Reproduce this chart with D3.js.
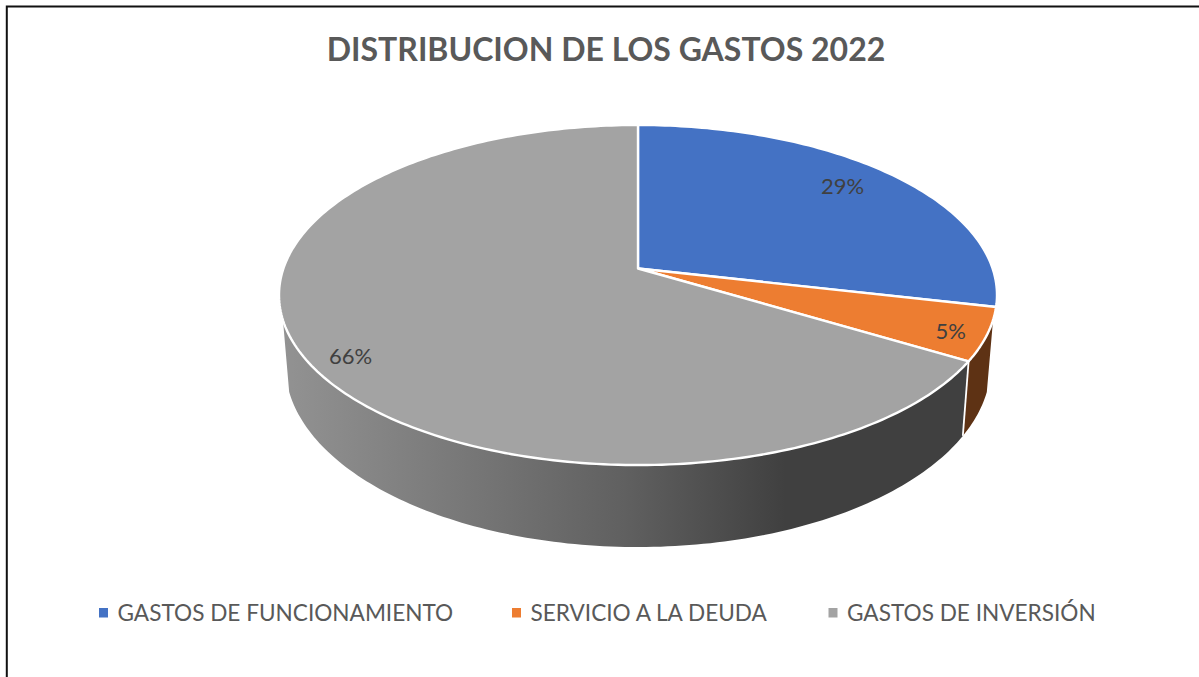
<!DOCTYPE html>
<html><head><meta charset="utf-8">
<script src="https://cdn.jsdelivr.net/npm/d3@7"></script>
<style>html,body{margin:0;padding:0;background:#fff}svg{display:block}text{font-family:Lato,"Open Sans",sans-serif}</style>
</head><body><svg id="c" width="1199" height="677"></svg>
<script>
const titleText = "DISTRIBUCION DE LOS GASTOS 2022";
const categories = ["GASTOS DE FUNCIONAMIENTO", "SERVICIO A LA DEUDA", "GASTOS DE INVERSIÓN"];
const values = [28.6, 5.0, 66.4];
const colors = ["#4472C4", "#ED7D31", "#A3A3A3"];
const wallColors = ["#264478", "#5E3214", "url(#wall)"];

const W = 1199, H = 677;
const svg = d3.select("#c");
const defs = svg.append("defs");
const grad = defs.append("linearGradient").attr("id", "wall")
  .attr("gradientUnits", "userSpaceOnUse").attr("x1", 285).attr("x2", 785).attr("y1", 0).attr("y2", 0);
[[0, "#929292"], [0.68, "#606060"], [1, "#404040"]].forEach(([o, c]) =>
  grad.append("stop").attr("offset", o).attr("stop-color", c));

// Perspective disc: u = sin(a), v = -cos(a), v > 0 toward the viewer
const K = 0.156;
const project = (p, a, r = 1) => {
  const u = r * Math.sin(a), v = -r * Math.cos(a), w = 1 - K * v;
  return [p.x0 + p.a * u / w, p.y0 + p.b * v / w];
};
const topP = { x0: 638, y0: 268.5, a: 354.6, b: 165.9 };
const botP = { x0: 638, y0: 336.6, a: 348.4, b: 177.6 };
const rad = d => d * Math.PI / 180;
const wallFrom = rad(107.3), wallTo = rad(252.7);

const arcs = d3.pie().sort(null).value(d => d)(values);
const sample = (a0, a1) => {
  const n = Math.max(2, Math.ceil((a1 - a0) / rad(1)));
  return d3.range(n + 1).map(i => a0 + (a1 - a0) * i / n);
};
const line = d3.line();

// Side walls
const walls = arcs.map((d, i) => ({ i, a0: Math.max(d.startAngle, wallFrom), a1: Math.min(d.endAngle, wallTo) }))
  .filter(d => d.a1 > d.a0);
svg.append("g").selectAll("path").data(walls).join("path")
  .attr("d", d => {
    const as = sample(d.a0, d.a1);
    return line(as.map(a => project(topP, a)).concat(as.slice().reverse().map(a => project(botP, a)))) + "Z";
  })
  .attr("fill", d => wallColors[d.i]);
// white seam between walls
const seam = arcs[1].endAngle;
svg.append("line")
  .attr("x1", project(topP, seam)[0]).attr("y1", project(topP, seam)[1])
  .attr("x2", project(botP, seam)[0]).attr("y2", project(botP, seam)[1])
  .attr("stroke", "#fff").attr("stroke-width", 1.8);

// Top face
svg.append("g").selectAll("path").data(arcs).join("path")
  .attr("d", d => line([[topP.x0, topP.y0]].concat(sample(d.startAngle, d.endAngle).map(a => project(topP, a)))) + "Z")
  .attr("fill", (d, i) => colors[i])
  .attr("stroke", "#fff").attr("stroke-width", 2.4).attr("stroke-linejoin", "round");

// Data labels
const labelPlace = [[0.822, -2], [0.906, 1.3], [0.893, -3.5]];
svg.append("g").selectAll("text").data(arcs).join("text")
  .each(function (d, i) {
    const mid = (d.startAngle + d.endAngle) / 2 + rad(labelPlace[i][1]);
    const [x, y] = project(topP, mid, labelPlace[i][0]);
    d3.select(this).attr("x", x).attr("y", y).attr("dy", "0.35em");
  })
  .attr("text-anchor", "middle").attr("font-size", 22).attr("fill", "#404040")
  .text(d => d3.format(".0f")(d.value) + "%");

// Title
svg.append("text").attr("x", 606).attr("y", 61).attr("text-anchor", "middle")
  .attr("font-size", 32).attr("font-weight", 700).attr("fill", "#595959").text(titleText);

// Legend
const legendX = [99, 512, 828.5];
const lg = svg.append("g").selectAll("g").data(categories).join("g")
  .attr("transform", (d, i) => `translate(${legendX[i]},0)`);
lg.append("rect").attr("y", 608).attr("width", 9).attr("height", 9.5).attr("fill", (d, i) => colors[i]);
lg.append("text").attr("x", 18.5).attr("y", 621).attr("font-size", 22.6).attr("fill", "#595959").text(d => d);

// Frame
svg.append("path").attr("d", `M6.8,${H}V6.5H${W}`).attr("fill", "none").attr("stroke", "#111").attr("stroke-width", 2);
</script></body></html>
